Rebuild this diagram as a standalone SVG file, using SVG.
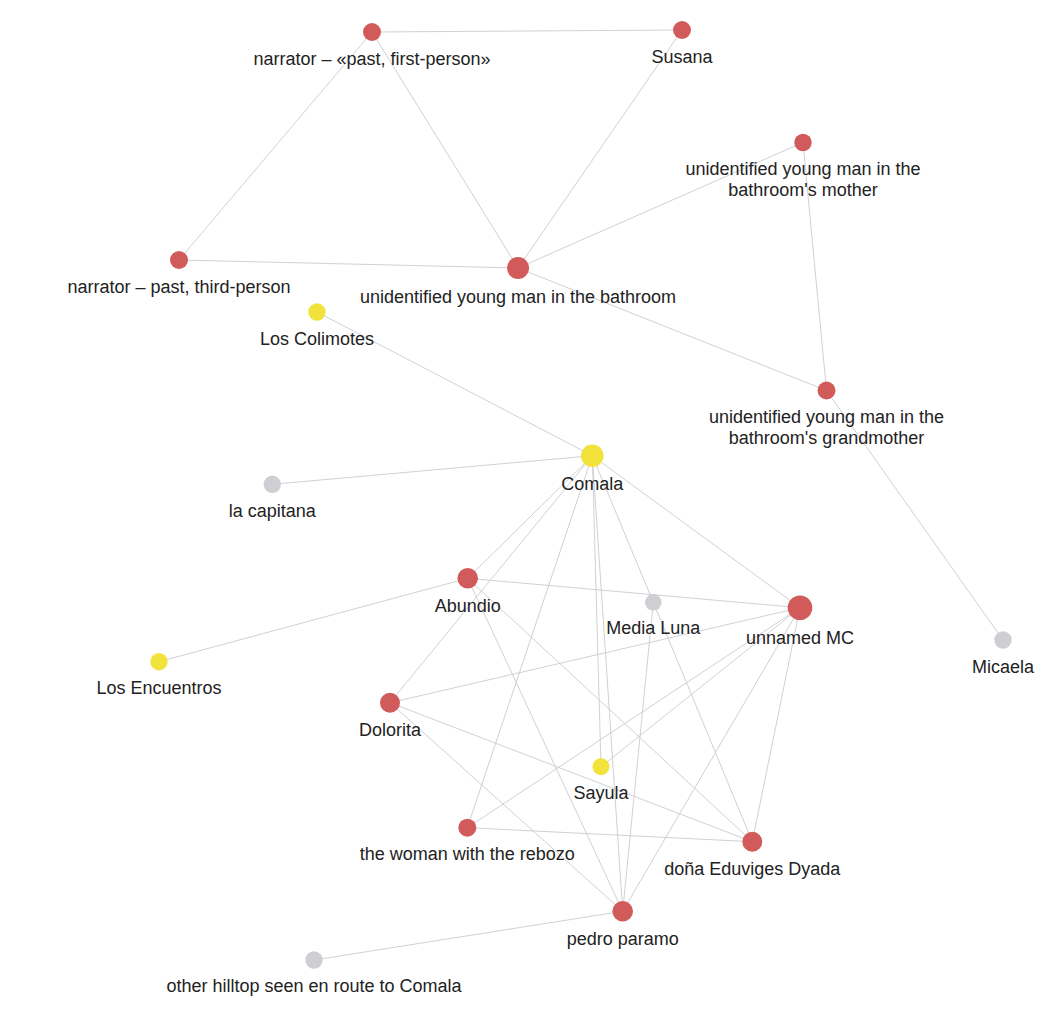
<svg xmlns="http://www.w3.org/2000/svg" width="1064" height="1016" viewBox="0 0 1064 1016">
<style>
.e{stroke:#cbcbd0;stroke-width:0.9;fill:none}
.r{fill:#d15a5a}
.y{fill:#f1e33c}
.g{fill:#cfcfd3}
text{font-family:"Liberation Sans",Arial,sans-serif;font-size:18px;fill:#222;text-anchor:middle}
</style>
<rect width="1064" height="1016" fill="#fff"/>
<g id="connectors">
<line class="e" x1="372" y1="32" x2="682" y2="30"/>
<line class="e" x1="372" y1="32" x2="179" y2="260"/>
<line class="e" x1="372" y1="32" x2="518" y2="268"/>
<line class="e" x1="682" y1="30" x2="518" y2="268"/>
<line class="e" x1="179" y1="260" x2="518" y2="268"/>
<line class="e" x1="518" y1="268" x2="803" y2="142.5"/>
<line class="e" x1="518" y1="268" x2="826.5" y2="390.5"/>
<line class="e" x1="803" y1="142.5" x2="826.5" y2="390.5"/>
<line class="e" x1="826.5" y1="390.5" x2="1003" y2="640"/>
<line class="e" x1="317" y1="312" x2="592.3" y2="455.7"/>
<line class="e" x1="272.3" y1="484.3" x2="592.3" y2="455.7"/>
<line class="e" x1="592.3" y1="455.7" x2="800" y2="607.7"/>
<line class="e" x1="592.3" y1="455.7" x2="467.7" y2="578.3"/>
<line class="e" x1="592.3" y1="455.7" x2="390" y2="702.7"/>
<line class="e" x1="592.3" y1="455.7" x2="653.3" y2="602.3"/>
<line class="e" x1="592.3" y1="455.7" x2="601" y2="766.7"/>
<line class="e" x1="592.3" y1="455.7" x2="622.7" y2="911.3"/>
<line class="e" x1="592.3" y1="455.7" x2="467.3" y2="827.7"/>
<line class="e" x1="467.7" y1="578.3" x2="800" y2="607.7"/>
<line class="e" x1="467.7" y1="578.3" x2="159" y2="661.7"/>
<line class="e" x1="467.7" y1="578.3" x2="622.7" y2="911.3"/>
<line class="e" x1="467.7" y1="578.3" x2="752.3" y2="841.7"/>
<line class="e" x1="390" y1="702.7" x2="800" y2="607.7"/>
<line class="e" x1="390" y1="702.7" x2="752.3" y2="841.7"/>
<line class="e" x1="390" y1="702.7" x2="622.7" y2="911.3"/>
<line class="e" x1="800" y1="607.7" x2="601" y2="766.7"/>
<line class="e" x1="800" y1="607.7" x2="467.3" y2="827.7"/>
<line class="e" x1="800" y1="607.7" x2="622.7" y2="911.3"/>
<line class="e" x1="800" y1="607.7" x2="752.3" y2="841.7"/>
<line class="e" x1="653.3" y1="602.3" x2="622.7" y2="911.3"/>
<line class="e" x1="653.3" y1="602.3" x2="752.3" y2="841.7"/>
<line class="e" x1="467.3" y1="827.7" x2="752.3" y2="841.7"/>
<line class="e" x1="622.7" y1="911.3" x2="314" y2="960"/>
</g>
<g id="n-narrator-first"><circle class="r" cx="372" cy="32" r="9"/><text x="372" y="65">narrator – «past, first-person»</text></g>
<g id="n-susana"><circle class="r" cx="682" cy="30" r="9"/><text x="682" y="63">Susana</text></g>
<g id="n-mother"><circle class="r" cx="803" cy="142.5" r="8.7"/><text x="803" y="175">unidentified young man in the</text><text x="803" y="196">bathroom's mother</text></g>
<g id="n-narrator-third"><circle class="r" cx="179" cy="260" r="9"/><text x="179" y="293">narrator – past, third-person</text></g>
<g id="n-bathroom"><circle class="r" cx="518" cy="268" r="11"/><text x="518" y="303">unidentified young man in the bathroom</text></g>
<g id="n-colimotes"><circle class="y" cx="317" cy="312" r="8.7"/><text x="317" y="345">Los Colimotes</text></g>
<g id="n-grandmother"><circle class="r" cx="826.5" cy="390.5" r="9"/><text x="826.5" y="423">unidentified young man in the</text><text x="826.5" y="444">bathroom's grandmother</text></g>
<g id="n-comala"><circle class="y" cx="592.3" cy="455.7" r="11.3"/><text x="592.3" y="490">Comala</text></g>
<g id="n-capitana"><circle class="g" cx="272.3" cy="484.3" r="8.7"/><text x="272.3" y="517">la capitana</text></g>
<g id="n-abundio"><circle class="r" cx="467.7" cy="578.3" r="10.3"/><text x="467.7" y="612">Abundio</text></g>
<g id="n-medialuna"><circle class="g" cx="653.3" cy="602.3" r="8.3"/><text x="653.3" y="634">Media Luna</text></g>
<g id="n-mc"><circle class="r" cx="800" cy="607.7" r="12.3"/><text x="800" y="644">unnamed MC</text></g>
<g id="n-micaela"><circle class="g" cx="1003" cy="640" r="8.7"/><text x="1003" y="673">Micaela</text></g>
<g id="n-encuentros"><circle class="y" cx="159" cy="661.7" r="8.7"/><text x="159" y="694">Los Encuentros</text></g>
<g id="n-dolorita"><circle class="r" cx="390" cy="702.7" r="10"/><text x="390" y="736">Dolorita</text></g>
<g id="n-sayula"><circle class="y" cx="601" cy="766.7" r="8.5"/><text x="601" y="799">Sayula</text></g>
<g id="n-rebozo"><circle class="r" cx="467.3" cy="827.7" r="9"/><text x="467.3" y="860">the woman with the rebozo</text></g>
<g id="n-eduviges"><circle class="r" cx="752.3" cy="841.7" r="10"/><text x="752.3" y="875">doña Eduviges Dyada</text></g>
<g id="n-pedro"><circle class="r" cx="622.7" cy="911.3" r="10.3"/><text x="622.7" y="945">pedro paramo</text></g>
<g id="n-hilltop"><circle class="g" cx="314" cy="960" r="8.7"/><text x="314" y="992">other hilltop seen en route to Comala</text></g>
</svg>
